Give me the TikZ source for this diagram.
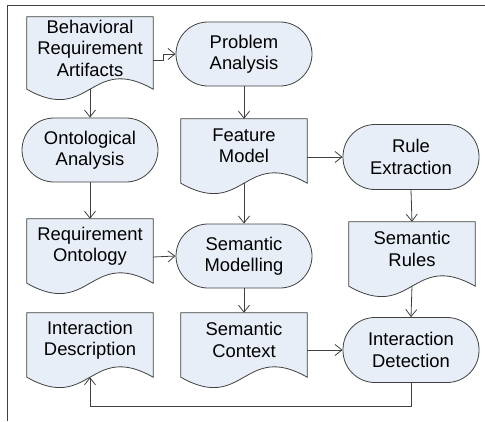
\documentclass[tikz,border=0pt]{standalone}
\usepackage{fontspec}
\setmainfont{Liberation Sans}
\usetikzlibrary{calc,arrows.meta,backgrounds}
\definecolor{boxfill}{RGB}{232,238,248}
\definecolor{edge}{RGB}{64,64,64}
\tikzset{
  base/.style={align=center, font=\fontsize{18.4}{21.5}\selectfont, inner sep=0pt},
  docbox/.style={base, minimum width=126pt, minimum height=54pt},
  termbox/.style={base, draw=edge, fill=boxfill, line width=0.8pt, rounded corners=32pt, minimum width=136pt, minimum height=64pt},
  arr/.style={draw=edge, line width=0.8pt, -{Straight Barb[length=7pt,width=11pt]}},
  docline/.style={draw=edge, fill=boxfill, line width=0.8pt}
}
\begin{document}
\begin{tikzpicture}[x=1pt,y=-1pt]
\useasboundingbox (0,0) rectangle (485,421);
\draw[edge, line width=0.8pt] (7,421) -- (7,5) -- (485,5);
% nodes (document nodes cover the straight part above the wave zone)
\node[docbox, minimum height=62pt] (bra) at (90,48) {Behavioral\\Requirement\\Artifacts};
\node[termbox] (pa) at (244,54) {Problem\\Analysis};
\node[termbox] (oa) at (90,150) {Ontological\\Analysis};
\node[docbox] (fm) at (244,146) {Feature\\Model};
\node[termbox, minimum height=65pt] (re) at (411,157) {Rule\\Extraction};
\node[docbox] (ro) at (90,246) {Requirement\\Ontology};
\node[termbox] (sm) at (244,256) {Semantic\\Modelling};
\node[docbox] (sr) at (412,249) {Semantic\\Rules};
\node[docbox] (id) at (90,340) {Interaction\\Description};
\node[docbox] (sc) at (244,340) {Semantic\\Context};
\node[termbox, minimum height=65pt] (idt) at (411,350) {Interaction\\Detection};
% document shapes
\begin{scope}[on background layer]
\foreach \n in {bra,fm,ro,sr,id,sc}{
  \path[docline] (\n.north west) -- (\n.north east) -- ($(\n.south east)+(0,10)$)
    .. controls ($(\n.south)+(0,-26)$) and ($(\n.south)+(0,46)$) .. ($(\n.south west)+(0,10)$) -- cycle;
}
\end{scope}
% connectors
\draw[arr] ($(bra.east)+(0,12)$) -- ++(10,0) |- (pa.west);
\draw[arr] ($(bra.south)+(0,10)$) -- (oa.north);
\draw[arr] (pa.south) -- (fm.north);
\draw[arr] (oa.south) -- (ro.north);
\draw[arr] ($(fm.east)+(0,11)$) -- (re.west);
\draw[arr] ($(fm.south)+(0,10)$) -- (sm.north);
\draw[arr] ($(ro.east)+(0,11)$) -- (sm.west);
\draw[arr] (re.south) -- (sr.north);
\draw[arr] (sm.south) -- (sc.north);
\draw[arr] ($(sr.south)+(0,10)$) -- (idt.north);
\draw[arr] ($(sc.east)+(0,10)$) -- (idt.west);
\coordinate (fbr) at ($(idt.south)+(0,23)$);
\draw[arr] (idt.south) -- (fbr) -| ($(id.south)+(0,10)$);
\end{tikzpicture}
\end{document}
